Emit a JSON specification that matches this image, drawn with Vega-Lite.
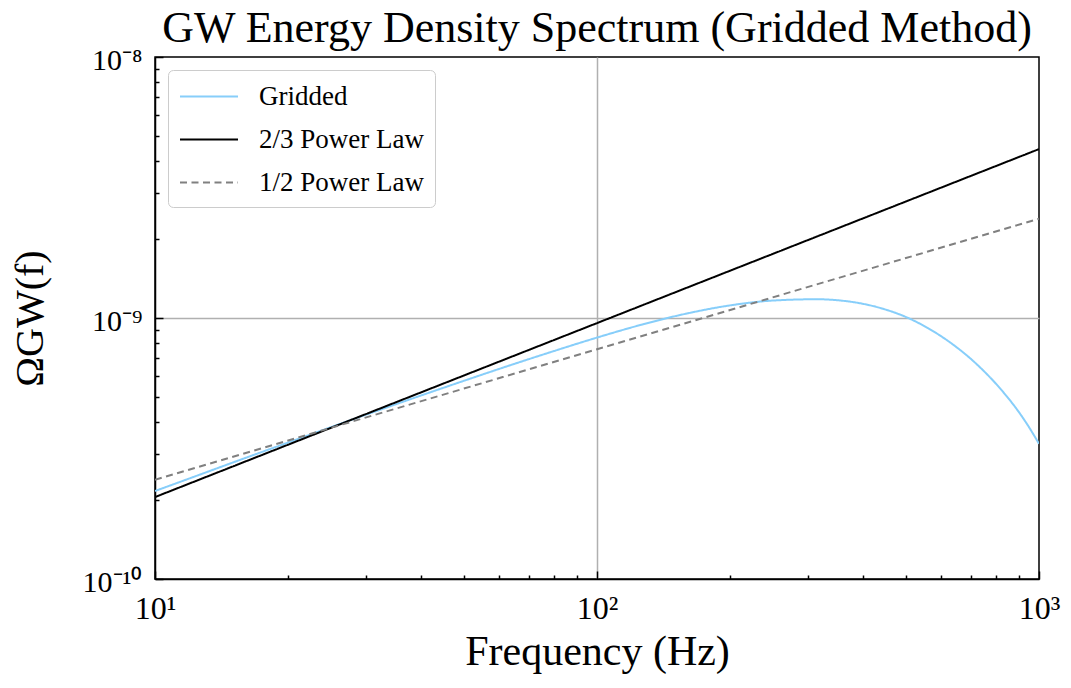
{
  "$schema": "https://vega.github.io/schema/vega-lite/v6.json",
  "width": 884,
  "height": 522,
  "autosize": "none",
  "padding": {"left": 155, "top": 57, "right": 32, "bottom": 109},
  "background": "white",
  "title": {
    "text": "GW Energy Density Spectrum (Gridded Method)",
    "font": "Liberation Serif",
    "fontSize": 44,
    "fontWeight": "normal",
    "color": "black",
    "anchor": "middle",
    "frame": "group",
    "baseline": "bottom",
    "offset": 3,
    "dy": 53
  },
  "config": {
    "view": {"stroke": "black", "strokeWidth": 1.5}
  },
  "data": {
    "values": [
      {"f": 10, "omega": 2.173e-10, "series": "Gridded"},
      {"f": 12.589, "omega": 2.506e-10, "series": "Gridded"},
      {"f": 15.849, "omega": 2.891e-10, "series": "Gridded"},
      {"f": 19.953, "omega": 3.327e-10, "series": "Gridded"},
      {"f": 25.119, "omega": 3.828e-10, "series": "Gridded"},
      {"f": 31.623, "omega": 4.395e-10, "series": "Gridded"},
      {"f": 39.811, "omega": 5.035e-10, "series": "Gridded"},
      {"f": 50.119, "omega": 5.754e-10, "series": "Gridded"},
      {"f": 63.096, "omega": 6.561e-10, "series": "Gridded"},
      {"f": 79.433, "omega": 7.447e-10, "series": "Gridded"},
      {"f": 100, "omega": 8.414e-10, "series": "Gridded"},
      {"f": 125.89, "omega": 9.419e-10, "series": "Gridded"},
      {"f": 158.49, "omega": 1.0375e-9, "series": "Gridded"},
      {"f": 199.53, "omega": 1.117e-9, "series": "Gridded"},
      {"f": 251.19, "omega": 1.167e-9, "series": "Gridded"},
      {"f": 316.23, "omega": 1.18e-9, "series": "Gridded"},
      {"f": 354.81, "omega": 1.167e-9, "series": "Gridded"},
      {"f": 398.11, "omega": 1.135e-9, "series": "Gridded"},
      {"f": 446.68, "omega": 1.081e-9, "series": "Gridded"},
      {"f": 501.19, "omega": 1.007e-9, "series": "Gridded"},
      {"f": 562.34, "omega": 9.12e-10, "series": "Gridded"},
      {"f": 630.96, "omega": 8.035e-10, "series": "Gridded"},
      {"f": 707.95, "omega": 6.871e-10, "series": "Gridded"},
      {"f": 749.9, "omega": 6.266e-10, "series": "Gridded"},
      {"f": 794.33, "omega": 5.662e-10, "series": "Gridded"},
      {"f": 841.4, "omega": 5.058e-10, "series": "Gridded"},
      {"f": 891.25, "omega": 4.467e-10, "series": "Gridded"},
      {"f": 944.1, "omega": 3.873e-10, "series": "Gridded"},
      {"f": 1000, "omega": 3.296e-10, "series": "Gridded"},
      {"f": 10, "omega": 2.06e-10, "series": "2/3 Power Law"},
      {"f": 100, "omega": 9.56e-10, "series": "2/3 Power Law"},
      {"f": 1000, "omega": 4.438e-9, "series": "2/3 Power Law"},
      {"f": 10, "omega": 2.4e-10, "series": "1/2 Power Law"},
      {"f": 100, "omega": 7.59e-10, "series": "1/2 Power Law"},
      {"f": 1000, "omega": 2.4e-9, "series": "1/2 Power Law"}
    ]
  },
  "mark": {"type": "line", "strokeWidth": 2, "clip": true, "interpolate": "monotone"},
  "encoding": {
    "x": {
      "field": "f",
      "type": "quantitative",
      "scale": {"type": "log", "domain": [10, 1000], "nice": false},
      "axis": {
        "values": [10, 20, 30, 40, 50, 60, 70, 80, 90, 100, 200, 300, 400, 500, 600, 700, 800, 900, 1000],
        "labelExpr": "datum.value == 10 ? '10¹' : datum.value == 100 ? '10²' : datum.value == 1000 ? '10³' : ''",
        "labelFont": "Liberation Serif",
        "labelFontSize": 32,
        "labelColor": "black",
        "labelOverlap": false,
        "labelFlush": false,
        "labelBaseline": "alphabetic",
        "labelPadding": 47,
        "tickSize": {"condition": {"test": "datum.value == 10 || datum.value == 100 || datum.value == 1000", "value": -8}, "value": -4},
        "tickColor": "black",
        "tickWidth": 1.5,
        "domainColor": "black",
        "domainWidth": 1.5,
        "grid": true,
        "gridColor": "#b0b0b0",
        "gridWidth": 1.5,
        "gridOpacity": {"condition": {"test": "datum.value == 100", "value": 1}, "value": 0},
        "title": "Frequency (Hz)",
        "titleFont": "Liberation Serif",
        "titleFontSize": 42,
        "titleFontWeight": "normal",
        "titleColor": "black",
        "titleX": 442,
        "titleY": 85,
        "titleAlign": "center",
        "titleBaseline": "alphabetic"
      }
    },
    "y": {
      "field": "omega",
      "type": "quantitative",
      "scale": {"type": "log", "domain": [1e-10, 1e-8], "nice": false},
      "axis": {
        "values": [1e-10, 2e-10, 3e-10, 4e-10, 5e-10, 6e-10, 7e-10, 8e-10, 9e-10, 1e-9, 2e-9, 3e-9, 4e-9, 5e-9, 6e-9, 7e-9, 8e-9, 9e-9, 1e-8],
        "labelExpr": "datum.value == 1e-10 ? '10⁻¹⁰' : datum.value == 1e-9 ? '10⁻⁹' : datum.value == 1e-8 ? '10⁻⁸' : ''",
        "labelFont": "Liberation Serif",
        "labelFontSize": 30,
        "labelColor": "black",
        "labelOverlap": false,
        "labelFlush": false,
        "labelBaseline": "middle",
        "labelPadding": 21,
        "labelOffset": 3,
        "tickSize": {"condition": {"test": "datum.value == 1e-10 || datum.value == 1e-9 || datum.value == 1e-8", "value": -8}, "value": -4},
        "tickColor": "black",
        "tickWidth": 1.5,
        "domainColor": "black",
        "domainWidth": 1.5,
        "grid": true,
        "gridColor": "#b0b0b0",
        "gridWidth": 1.5,
        "gridOpacity": {"condition": {"test": "datum.value == 1e-9", "value": 1}, "value": 0},
        "title": "ΩGW(f)",
        "titleFont": "Liberation Serif",
        "titleFontSize": 40,
        "titleFontWeight": "normal",
        "titleColor": "black",
        "titleX": -125,
        "titleY": 261,
        "titleAngle": 270,
        "titleAlign": "center",
        "titleBaseline": "middle"
      }
    },
    "color": {
      "field": "series",
      "type": "nominal",
      "sort": ["Gridded", "2/3 Power Law", "1/2 Power Law"],
      "scale": {"domain": ["Gridded", "2/3 Power Law", "1/2 Power Law"], "range": ["#87cefa", "#000000", "#808080"]},
      "legend": {
        "orient": "none",
        "legendX": 13,
        "legendY": 13,
        "title": null,
        "labelFont": "Liberation Serif",
        "labelFontSize": 27,
        "labelColor": "black",
        "labelLimit": 400,
        "symbolType": "M-1,0H3",
        "symbolSize": 841,
        "symbolStrokeWidth": 2,
        "labelOffset": 49,
        "padding": 11,
        "rowPadding": 14,
        "strokeColor": "#cccccc",
        "fillColor": "white",
        "cornerRadius": 5
      }
    },
    "strokeDash": {
      "field": "series",
      "type": "nominal",
      "sort": ["Gridded", "2/3 Power Law", "1/2 Power Law"],
      "scale": {"domain": ["Gridded", "2/3 Power Law", "1/2 Power Law"], "range": [[1, 0], [1, 0], [7, 4.5]]},
      "legend": {
        "orient": "none",
        "legendX": 13,
        "legendY": 13,
        "title": null,
        "labelFont": "Liberation Serif",
        "labelFontSize": 27,
        "labelColor": "black",
        "labelLimit": 400,
        "symbolType": "M-1,0H3",
        "symbolSize": 841,
        "symbolStrokeWidth": 2,
        "labelOffset": 49,
        "padding": 11,
        "rowPadding": 14,
        "strokeColor": "#cccccc",
        "fillColor": "white",
        "cornerRadius": 5
      }
    }
  }
}
